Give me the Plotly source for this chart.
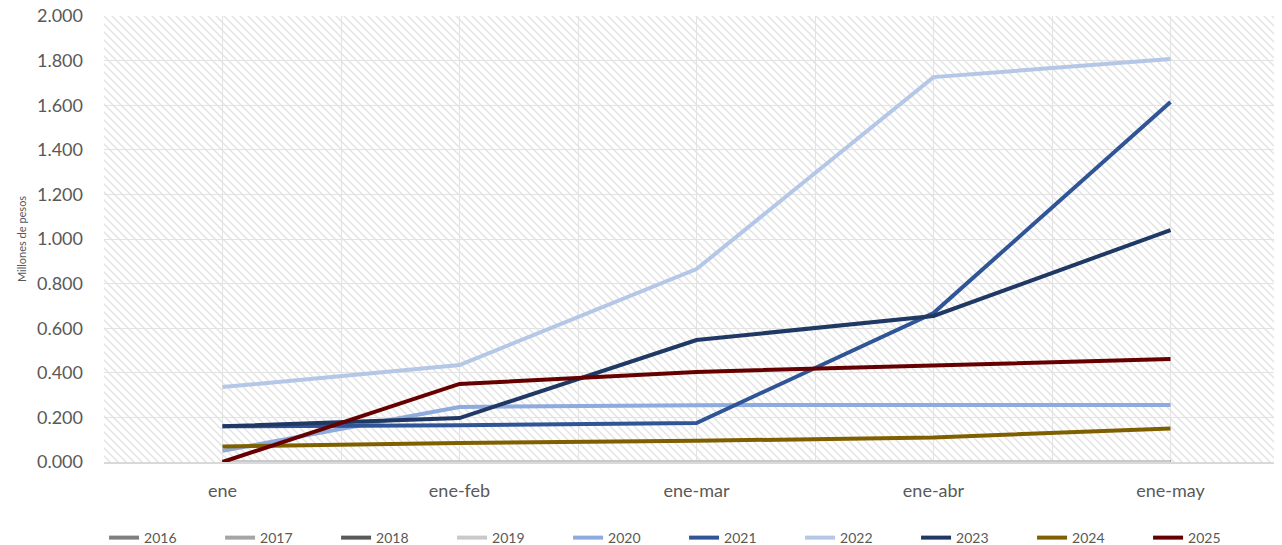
import base64
import plotly.graph_objects as go

# periodos acumulados
periodos = ["ene", "ene-feb", "ene-mar", "ene-abr", "ene-may"]

# millones de pesos
v2016 = [0.0, 0.0, 0.0, 0.0, 0.0]
v2017 = [0.0, 0.0, 0.0, 0.0, 0.0]
v2018 = [0.0, 0.0, 0.0, 0.0, 0.0]
v2019 = [0.0, 0.0, 0.0, 0.0, 0.0]
v2020 = [0.050, 0.247, 0.255, 0.255, 0.256]
v2021 = [0.160, 0.165, 0.175, 0.668, 1.614]
v2022 = [0.336, 0.435, 0.865, 1.726, 1.807]
v2023 = [0.160, 0.197, 0.547, 0.655, 1.040]
v2024 = [0.070, 0.085, 0.095, 0.110, 0.150]
v2025 = [0.000, 0.350, 0.404, 0.435, 0.462]

series = [
    ("2016", v2016, "#7F7F7F"),
    ("2017", v2017, "#A5A5A5"),
    ("2018", v2018, "#595959"),
    ("2019", v2019, "#C9C9C9"),
    ("2020", v2020, "#8FAADC"),
    ("2021", v2021, "#2F5597"),
    ("2022", v2022, "#B4C7E7"),
    ("2023", v2023, "#203864"),
    ("2024", v2024, "#7F6000"),
    ("2025", v2025, "#660000"),
]

# la pagina tiene 8px de margen en el body
W, H = 1274, 537
ML, MT, MB = 96, 8, 83
PW, PH = W - ML, H - MT - MB

# fondo rayado tipo Excel
svg = f'''<svg xmlns="http://www.w3.org/2000/svg" width="{PW}" height="{PH}">
<defs><pattern id="p" width="8" height="8" patternUnits="userSpaceOnUse">
<path d="M-2,-2 L10,10 M-2,6 L2,10 M6,-2 L10,2" stroke="#E3E3E3" stroke-width="1.5"/>
</pattern></defs>
<rect width="100%" height="100%" fill="white"/>
<rect width="100%" height="100%" fill="url(#p)"/>
</svg>'''
bg = "data:image/svg+xml;base64," + base64.b64encode(svg.encode()).decode()

fig = go.Figure()
x = list(range(len(periodos)))
for name, vals, color in series:
    fig.add_trace(go.Scatter(
        x=x, y=vals, mode="lines", name=name,
        line=dict(color=color, width=4),
    ))

font = "Lato, 'Open Sans', sans-serif"
fig.update_layout(
    width=W, height=H,
    margin=dict(l=ML, r=0, t=MT, b=MB, autoexpand=False),
    paper_bgcolor="white",
    plot_bgcolor="white",
    font=dict(family=font, color="#595959"),
    showlegend=True,
    legend=dict(
        orientation="h", xref="container", yref="container",
        x=0.0754, y=0.013, xanchor="left", yanchor="middle",
        entrywidth=71, entrywidthmode="pixels",
        font=dict(size=14, color="#595959"),
        traceorder="normal",
    ),
    images=[dict(
        source=bg, xref="paper", yref="paper", x=0, y=1,
        sizex=1, sizey=1, sizing="stretch", layer="below",
        xanchor="left", yanchor="top",
    )],
)

fig.update_xaxes(
    range=[-0.5, -0.5 + PW / 237.0],
    tickvals=x, ticktext=periodos,
    tickfont=dict(size=18, color="#595959"),
    showgrid=True, gridcolor="#E3E3E3", gridwidth=1,
    minor=dict(tickvals=[i + 0.5 for i in range(-1, len(periodos))],
               showgrid=True, gridcolor="#E3E3E3", gridwidth=1),
    showline=True, linecolor="#D9D9D9", linewidth=2,
    ticks="", ticklabelstandoff=11,
    zeroline=False, fixedrange=True,
)
fig.update_yaxes(
    range=[0, 2.0], dtick=0.2, tickformat=".3f",
    tickfont=dict(size=18, color="#595959"),
    showgrid=True, gridcolor="#E3E3E3", gridwidth=1,
    showline=False, zeroline=False, ticks="",
    ticklabelstandoff=20, ticklabeloverflow="allow",
    title=dict(text="Millones de pesos", font=dict(size=11, color="#595959"), standoff=8),
)

fig.write_html("out.html")
